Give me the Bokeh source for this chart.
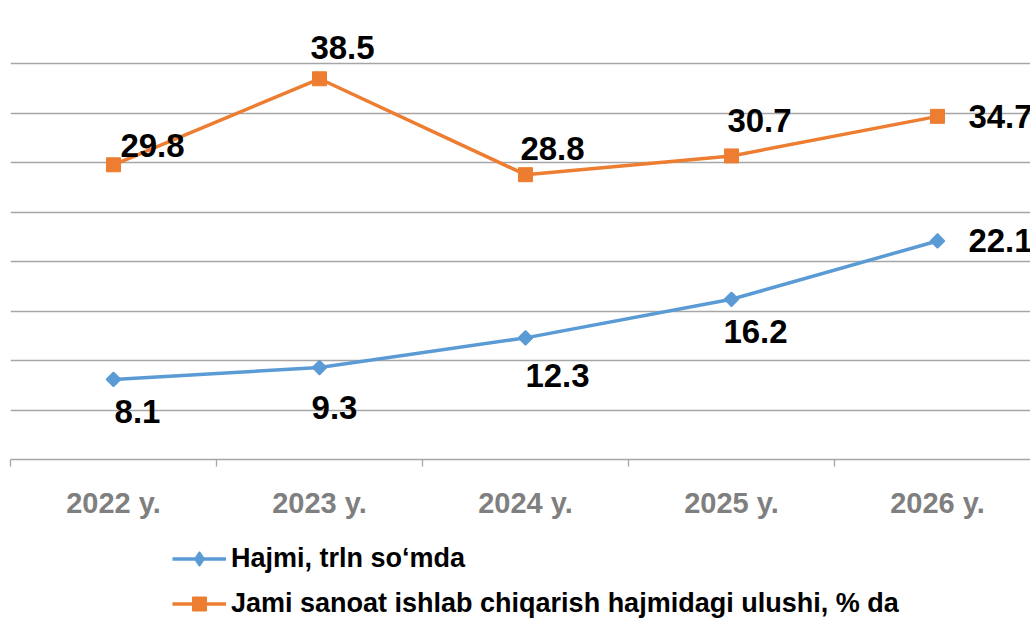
import math
from bokeh.plotting import figure
from bokeh.layouts import column
from bokeh.models import Range1d, FixedTicker, Legend, LegendItem, ColumnDataSource
from bokeh.core.properties import value
from bokeh.embed import file_html
from bokeh.resources import INLINE

years = ["2022 y.", "2023 y.", "2024 y.", "2025 y.", "2026 y."]
hajmi = [8.1, 9.3, 12.3, 16.2, 22.1]
ulushi = [29.8, 38.5, 28.8, 30.7, 34.7]
name_hajmi = "Hajmi, trln so\u2018mda"
name_ulushi = "Jami sanoat ishlab chiqarish hajmidagi ulushi, % da"

# label offsets in screen pixels (styling)
hajmi_dx = [24, 15, 32, 24, 63]
hajmi_dy = [32, 40, 38, 32, 0]
ulushi_dx = [39, 23, 27, 28, 63]
ulushi_dy = [-19, -31, -26, -35, 0]

BLUE = "#5b9bd5"
ORANGE = "#ed7d31"
GRID = "#a6a6a6"
FONT = "Liberation Sans"

xs = [i + 0.5 for i in range(len(years))]

p = figure(width=1030, height=530, output_backend="svg", toolbar_location=None,
           x_range=Range1d(0, 1020 / 206), y_range=Range1d(0, 45),
           y_axis_location=None, min_border_left=10, min_border_right=0,
           min_border_top=14, min_border_bottom=71)
p.outline_line_color = None
p.background_fill_color = "white"
p.border_fill_color = "white"

p.xgrid.visible = False
p.ygrid.ticker = FixedTicker(ticks=[5, 10, 15, 20, 25, 30, 35, 40, 45])
p.ygrid.grid_line_color = GRID
p.ygrid.grid_line_width = 1.3

ax = p.xaxis[0]
ax.ticker = FixedTicker(ticks=xs, minor_ticks=list(range(len(years) + 1)))
ax.major_label_overrides = {x: y for x, y in zip(xs, years)}
ax.major_tick_in = 0
ax.major_tick_out = 0
ax.minor_tick_in = 0
ax.minor_tick_out = 7
ax.minor_tick_line_color = GRID
ax.minor_tick_line_width = 1.3
ax.axis_line_color = GRID
ax.axis_line_width = 1.3
ax.major_label_text_font = FONT
ax.major_label_text_font_style = "bold"
ax.major_label_text_font_size = "29px"
ax.major_label_text_color = "#7f7f7f"
ax.major_label_standoff = 20

src_h = ColumnDataSource(dict(x=xs, y=hajmi, t=[f"{v:.1f}" for v in hajmi], dx=hajmi_dx, dy=hajmi_dy))
src_u = ColumnDataSource(dict(x=xs, y=ulushi, t=[f"{v:.1f}" for v in ulushi], dx=ulushi_dx, dy=ulushi_dy))

p.line("x", "y", source=src_h, line_color=BLUE, line_width=3.5)
p.scatter("x", "y", source=src_h, marker="square", angle=math.pi / 4, size=10,
          fill_color=BLUE, line_color=BLUE, line_width=1.5)
p.line("x", "y", source=src_u, line_color=ORANGE, line_width=3.5)
p.scatter("x", "y", source=src_u, marker="square", size=14, fill_color=ORANGE, line_color=ORANGE)

for src in (src_h, src_u):
    p.text("x", "y", text="t", source=src, x_offset="dx", y_offset="dy",
           text_align="center", text_baseline="middle",
           text_font=value(FONT), text_font_style="bold", text_font_size="33px",
           text_color="black")

# legend panel (proxy glyphs placed far outside the visible range)
q = figure(width=1030, height=91, output_backend="svg", toolbar_location=None,
           x_range=Range1d(0, 1), y_range=Range1d(0, 1),
           x_axis_location=None, y_axis_location=None,
           min_border_left=0, min_border_right=0, min_border_top=0, min_border_bottom=0)
q.outline_line_color = None
q.xgrid.visible = False
q.ygrid.visible = False
proxy = ColumnDataSource(dict(x=[-50, -49], y=[-50, -50]))
lh = q.line("x", "y", source=proxy, line_color=BLUE, line_width=3.5)
mh = q.scatter("x", "y", source=proxy, marker="diamond",
               size=14, fill_color=BLUE, line_color=BLUE, line_width=1.5)
lu = q.line("x", "y", source=proxy, line_color=ORANGE, line_width=3.5)
mu = q.scatter("x", "y", source=proxy, marker="square", size=14,
               fill_color=ORANGE, line_color=ORANGE)

legend = Legend(items=[LegendItem(label=name_hajmi, renderers=[lh, mh]),
                       LegendItem(label=name_ulushi, renderers=[lu, mu])],
                location=(162, 0), orientation="vertical")
legend.border_line_color = None
legend.background_fill_alpha = 0
legend.padding = 0
legend.margin = 0
legend.glyph_width = 54
legend.glyph_height = 35
legend.label_height = 20
legend.label_standoff = 5
legend.spacing = 10
legend.label_text_font = FONT
legend.label_text_font_style = "bold"
legend.label_text_font_size = "27px"
legend.label_text_color = "black"
q.add_layout(legend)

layout = column(p, q, spacing=0)
open("out.html", "w").write(file_html(layout, INLINE))
